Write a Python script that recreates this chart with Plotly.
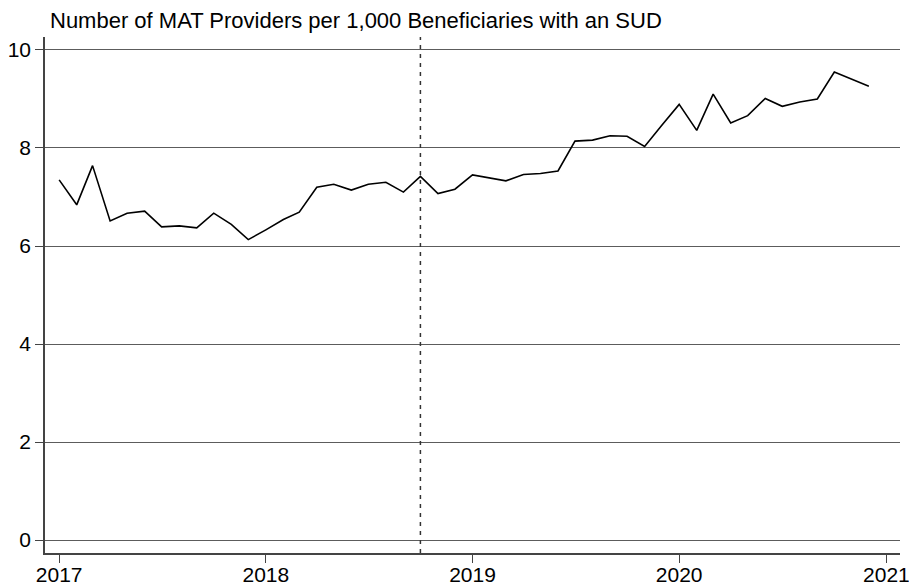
import pandas as pd
import plotly.graph_objects as go

# Monthly series, Jan 2017 - Dec 2020
months = pd.date_range("2017-01-01", periods=48, freq="MS")
providers_per_1000 = [
    7.35, 6.84, 7.64, 6.51, 6.67, 6.71, 6.39, 6.41, 6.37, 6.67, 6.44, 6.13,
    6.33, 6.54, 6.69, 7.20, 7.26, 7.14, 7.26, 7.30, 7.10, 7.42, 7.07, 7.16,
    7.45, 7.39, 7.33, 7.46, 7.48, 7.53, 8.14, 8.16, 8.25, 8.24, 8.03, 8.46,
    8.89, 8.36, 9.10, 8.51, 8.66, 9.01, 8.85, 8.94, 9.00, 9.55, 9.41, 9.26,
]
year_ticks = ["2017-01-01", "2018-01-01", "2019-01-01", "2020-01-01", "2021-01-01"]
year_labels = ["2017", "2018", "2019", "2020", "2021"]
y_ticks = [0, 2, 4, 6, 8, 10]
policy_date = "2018-10-01"
title_text = "Number of MAT Providers per 1,000 Beneficiaries with an SUD"

font_family = "Liberation Sans, Arial, Helvetica, sans-serif"

fig = go.Figure()
fig.add_trace(go.Scatter(
    x=months, y=providers_per_1000, mode="lines",
    line=dict(color="#000000", width=1.6),
    hoverinfo="x+y", showlegend=False,
))

# vertical reference line at the policy date
fig.add_shape(
    type="line", xref="x", yref="paper",
    x0=policy_date, x1=policy_date, y0=0, y1=1,
    line=dict(color="#333333", width=1.5, dash="4px,5px"),
)

fig.update_layout(
    width=909, height=586,
    margin=dict(l=45, r=9, t=37, b=33),
    paper_bgcolor="#ffffff", plot_bgcolor="#ffffff",
    font=dict(family=font_family, size=21, color="#000000"),
    title=dict(
        text=title_text, x=50 / 909, xanchor="left", xref="container",
        y=1 - 20 / 586, yanchor="middle", yref="container",
        font=dict(family=font_family, size=22, color="#000000"),
    ),
    xaxis=dict(
        type="date", automargin=False,
        range=["2016-12-07", "2021-01-25"],
        tickvals=year_ticks, ticktext=year_labels,
        ticks="outside", ticklen=8, tickwidth=1.2, tickcolor="#444444",
        ticklabelstandoff=-6, ticklabeloverflow="allow",
        showline=True, linecolor="#444444", linewidth=1.5,
        showgrid=False, zeroline=False,
        tickfont=dict(size=21),
    ),
    yaxis=dict(
        automargin=False,
        range=[-0.265, 10.265],
        tickvals=y_ticks,
        ticks="outside", ticklen=8, tickwidth=1.2, tickcolor="#444444",
        showline=True, linecolor="#444444", linewidth=1.5,
        showgrid=True, gridcolor="#5c5c5c", gridwidth=1.3,
        zeroline=False,
        tickfont=dict(size=21),
    ),
)

fig.write_html("out.html")
